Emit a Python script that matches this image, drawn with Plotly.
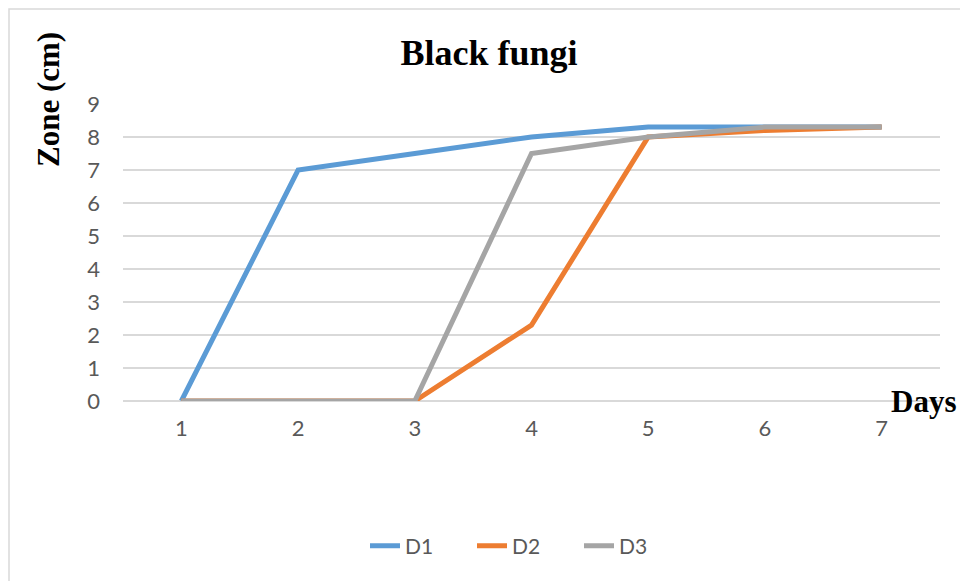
import plotly.graph_objects as go

days = [1, 2, 3, 4, 5, 6, 7]
d1 = [0, 7.0, 7.5, 8.0, 8.3, 8.3, 8.3]
d2 = [0, 0, 0, 2.3, 8.0, 8.2, 8.3]
d3 = [0, 0, 0, 7.5, 8.0, 8.3, 8.3]
series_names = ["D1", "D2", "D3"]
colors = ["#5B9BD5", "#ED7D31", "#A5A5A5"]

W, H = 960, 581
L, R, T, B = 123, 20, 104, 180
pw, ph = W - L - R, H - T - B

def px_x(p):
    return (p - L) / pw

def px_y(p):
    return (H - B - p) / ph

fig = go.Figure()
for name, vals, col in zip(series_names, [d1, d2, d3], colors):
    fig.add_trace(go.Scatter(
        x=days, y=vals, mode="lines", name=name,
        line=dict(color=col, width=5),
    ))

tickfont = dict(family="Lato, Carlito, sans-serif", size=22, color="#595959")

fig.update_layout(
    width=W, height=H,
    margin=dict(l=L, r=R, t=T, b=B, pad=0),
    paper_bgcolor="white", plot_bgcolor="white",
    title=dict(text="<b>Black fungi</b>", x=px_x(489), xref="paper",
               y=1 - 52 / H, yref="container", xanchor="center", yanchor="middle",
               font=dict(family="Liberation Serif, Times New Roman, serif", size=36, color="black")),
    xaxis=dict(range=[0.5, 7.5], tickvals=days, ticktext=[str(d) for d in days],
               showgrid=False, zeroline=False, showline=False, ticks="",
               tickfont=tickfont, ticklabelstandoff=12, fixedrange=True),
    yaxis=dict(range=[0, 9], tickvals=list(range(10)), showgrid=True,
               gridcolor="#D9D9D9", gridwidth=1.5, zeroline=True, zerolinecolor="#D9D9D9",
               zerolinewidth=1.5, showline=False, ticks="", tickfont=tickfont,
               ticklabelstandoff=22, fixedrange=True),
    legend=dict(orientation="h", x=px_x(365), y=px_y(546), xanchor="left", yanchor="middle",
                entrywidth=62, entrywidthmode="pixels",
                font=dict(family="Lato, Carlito, sans-serif", size=21, color="#595959"),
                bgcolor="rgba(0,0,0,0)"),
    showlegend=True,
    shapes=[dict(type="rect", xref="paper", yref="paper",
                 x0=px_x(9), x1=px_x(975), y0=px_y(9), y1=px_y(595),
                 line=dict(color="#D9D9D9", width=1.5), layer="below")],
    annotations=[
        dict(text="<b>Days</b>", xref="paper", yref="paper", x=px_x(958), y=px_y(401),
             xanchor="right", yanchor="middle", showarrow=False,
             font=dict(family="Liberation Serif, Times New Roman, serif", size=31, color="black")),
        dict(text="<b>Zone (cm)</b>", xref="paper", yref="paper", x=px_x(48), y=px_y(100),
             xanchor="center", yanchor="middle", showarrow=False, textangle=-90,
             font=dict(family="Liberation Serif, Times New Roman, serif", size=31, color="black")),
    ],
)

fig.write_html("out.html", config={"displayModeBar": False},
               post_script="document.body.style.margin='0';document.body.style.overflow='hidden';")
